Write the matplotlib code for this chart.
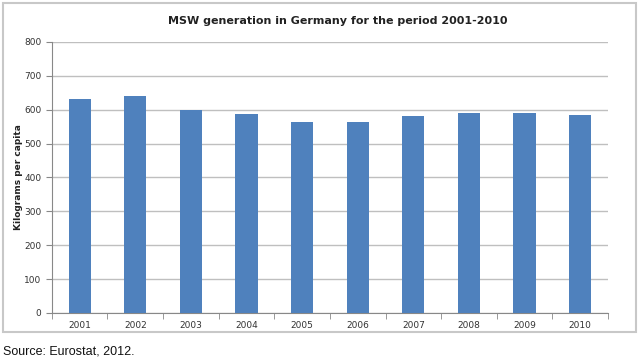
import numpy as np
import matplotlib.pyplot as plt
from matplotlib.patches import Rectangle

years = ['2001', '2002', '2003', '2004', '2005', '2006', '2007', '2008', '2009', '2010']
kg_per_capita = [632, 640, 600, 587, 565, 563, 581, 589, 591, 583]

fig = plt.figure(figsize=(6.4, 3.61), dpi=100)
ax = fig.add_axes([0.081, 0.133, 0.869, 0.751])

x = np.arange(len(years))
ax.bar(x, kg_per_capita, width=0.4, color='#4F81BD', zorder=3)

ax.set_xlim(-0.5, len(years) - 0.5)
ax.set_ylim(0, 800)
ax.set_yticks(np.arange(0, 801, 100))
ax.yaxis.grid(True, color='#BFBFBF', linewidth=1.0, zorder=0)
ax.set_xticks(x)
ax.set_xticklabels(years)
ax.set_xticks(np.arange(-0.5, len(years)), minor=True)
ax.tick_params(axis='x', which='major', length=0, labelsize=6.5, colors='#333333', pad=6)
ax.tick_params(axis='x', which='minor', length=4, color='#888888', direction='out')
ax.tick_params(axis='y', length=4, color='#888888', labelsize=6.5, labelcolor='#333333')

for s in ['top', 'right']:
    ax.spines[s].set_visible(False)
for s in ['left', 'bottom']:
    ax.spines[s].set_color('#888888')

ax.set_ylabel('Kilograms per capita', fontsize=6.5, fontweight='bold', color='#222222', labelpad=1)
fig.text(0.528, 0.943, 'MSW generation in Germany for the period 2001-2010',
         ha='center', va='center', fontsize=8, fontweight='bold', color='#222222')

fig.patches.append(Rectangle((0.005, 0.08), 0.989, 0.912, transform=fig.transFigure,
                             fill=False, edgecolor='#C8C8C8', linewidth=1.5))
fig.text(0.005, 0.025, 'Source: Eurostat, 2012.', fontsize=9, family='Liberation Sans',
         ha='left', va='center', color='#111111')

plt.savefig('out.png', dpi=100)
